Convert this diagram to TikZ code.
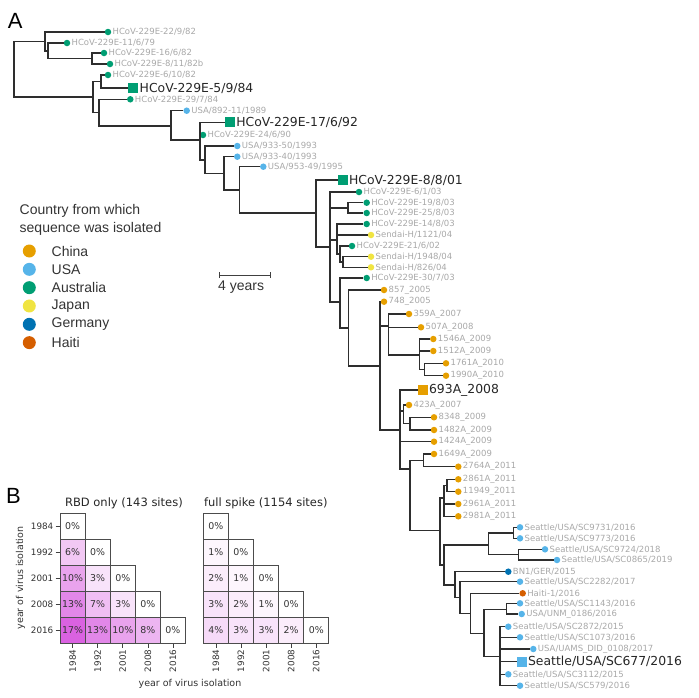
\documentclass[tikz,border=0pt]{standalone}
\usepackage{fontspec}
\setmainfont{Liberation Sans}
\newfontfamily\dejavu{DejaVu Sans}
\usepackage{tikz}

\definecolor{cCN}{HTML}{E69F00}
\definecolor{cUS}{HTML}{56B4E9}
\definecolor{cAU}{HTML}{009E73}
\definecolor{cJP}{HTML}{F0E442}
\definecolor{cDE}{HTML}{0072B2}
\definecolor{cHT}{HTML}{D55E00}
\definecolor{labgray}{HTML}{A8A8A8}
\definecolor{treeline}{HTML}{2E2E2E}
\definecolor{heat}{RGB}{205,45,215}

\newcommand\leaffont{\dejavu\fontsize{8.5}{10}\selectfont}
\newcommand\bigleaffont{\dejavu\fontsize{12.4}{14}\selectfont}
\newcommand\tickfont{\dejavu\fontsize{8.8}{10}\selectfont}
\newcommand\cellfont{\dejavu\fontsize{9.4}{11}\selectfont}
\newcommand\titlefont{\dejavu\fontsize{11.5}{13}\selectfont}

\tikzset{
  branch/.style={draw=treeline, line width=1.55pt},
  tip/.style={circle, fill=#1, inner sep=0pt, minimum size=6.5pt, label distance=0.8pt},
  bigtip/.style={rectangle, fill=#1, inner sep=0pt, minimum size=10pt, label distance=3pt},
  lab/.style={font=\leaffont, text=labgray, inner sep=1pt},
  biglab/.style={font=\bigleaffont, text=black!85, inner sep=1pt},
  legdot/.style={circle, fill=#1, inner sep=0pt, minimum size=13pt},
  legtext/.style={font=\fontsize{14}{16}\selectfont, text=black!80, inner sep=0pt},
  panel/.style={font=\fontsize{22}{24}\selectfont, inner sep=0pt},
  cell/.style={draw=black!70, line width=0.8pt, minimum width=25.1pt, minimum height=26.1pt,
    inner sep=0pt, font=\cellfont, text=black!80},
  tickmark/.style={draw=black!75, line width=0.7pt},
  ticklab/.style={font=\tickfont, text=black!80, inner sep=0pt},
}

\begin{document}
\begin{tikzpicture}[x=1pt,y=-1pt]
\useasboundingbox (0,0) rectangle (699,697);

\node[panel] (A) at (15.3,21) {A};
\node[panel] (B) at (13.5,495.5) {B};

% internal nodes of the tree
\coordinate (root) at (14,69);
\coordinate (n1) at (45,41.4);
\coordinate (n2) at (48,50.75);
\coordinate (n3) at (92,58.5);
\coordinate (m1) at (93,97);
\coordinate (m2) at (101,81.5);
\coordinate (m3) at (99,112.5);
\coordinate (m4) at (171,126);
\coordinate (m5) at (200,140);
\coordinate (m6) at (205,160);
\coordinate (m7) at (224,173.3);
\coordinate (m8) at (239.3,190);
\coordinate (m9) at (316,213);
\coordinate (m10) at (330,247);
\coordinate (a1) at (348,208);
\coordinate (b1) at (337,240);
\coordinate (b2) at (340,254);
\coordinate (b3) at (343,262);
\coordinate (d1) at (340,302);
\coordinate (e1) at (348.3,328);
\coordinate (f1) at (380,366);
\coordinate (g1) at (388.3,326);
\coordinate (h1) at (419.3,355);
\coordinate (h2) at (424.3,369.7);
\coordinate (k1) at (400,430);
\coordinate (l1) at (403.3,411);
\coordinate (l2) at (410,423.7);
\coordinate (p1) at (410,469);
\coordinate (p2) at (423.3,460.7);
\coordinate (q1) at (440,530.7);
\coordinate (r1) at (444,498);
\coordinate (r2) at (447,485.5);
\coordinate (t1) at (444,565);
\coordinate (u1) at (488.3,545);
\coordinate (u2) at (513.3,532.8);
\coordinate (u3) at (518.3,554.7);
\coordinate (v1) at (455,585);
\coordinate (v2) at (460,597.5);
\coordinate (v3) at (470.7,613.3);
\coordinate (v4) at (484,633.3);
\coordinate (v5) at (506.7,609.3);
\coordinate (v6) at (500,656.7);

% tips
\node[tip=cAU, label={[lab]right:HCoV-229E-22/9/82}] (L1) at (108,32) {};
\node[tip=cAU, label={[lab]right:HCoV-229E-11/6/79}] (L2) at (67,43) {};
\node[tip=cAU, label={[lab]right:HCoV-229E-16/6/82}] (L3) at (104,53) {};
\node[tip=cAU, label={[lab]right:HCoV-229E-8/11/82b}] (L4) at (110,64) {};
\node[tip=cAU, label={[lab]right:HCoV-229E-6/10/82}] (L5) at (108,75) {};
\node[bigtip=cAU, label={[biglab]right:HCoV-229E-5/9/84}] (L6) at (133.3,88) {};
\node[tip=cAU, label={[lab]right:HCoV-229E-29/7/84}] (L7) at (130.3,99.3) {};
\node[tip=cUS, label={[lab]right:USA/892-11/1989}] (L8) at (186.7,110.7) {};
\node[bigtip=cAU, label={[biglab]right:HCoV-229E-17/6/92}] (L9) at (230,122.3) {};
\node[tip=cAU, label={[lab]right:HCoV-229E-24/6/90}] (L10) at (203,135) {};
\node[tip=cUS, label={[lab]right:USA/933-50/1993}] (L11) at (237.3,146) {};
\node[tip=cUS, label={[lab]right:USA/933-40/1993}] (L12) at (237.3,156.7) {};
\node[tip=cUS, label={[lab]right:USA/953-49/1995}] (L13) at (263.3,166.7) {};
\node[bigtip=cAU, label={[biglab]right:HCoV-229E-8/8/01}] (L14) at (342.7,180) {};
\node[tip=cAU, label={[lab]right:HCoV-229E-6/1/03}] (L15) at (359,192) {};
\node[tip=cAU, label={[lab]right:HCoV-229E-19/8/03}] (L16) at (366.7,202.7) {};
\node[tip=cAU, label={[lab]right:HCoV-229E-25/8/03}] (L17) at (366.7,213) {};
\node[tip=cAU, label={[lab]right:HCoV-229E-14/8/03}] (L18) at (366.7,224) {};
\node[tip=cJP, label={[lab]right:Sendai-H/1121/04}] (L19) at (371,235) {};
\node[tip=cAU, label={[lab]right:HCoV-229E-21/6/02}] (L20) at (352,246) {};
\node[tip=cJP, label={[lab]right:Sendai-H/1948/04}] (L21) at (371,256.7) {};
\node[tip=cJP, label={[lab]right:Sendai-H/826/04}] (L22) at (371,267.3) {};
\node[tip=cAU, label={[lab]right:HCoV-229E-30/7/03}] (L23) at (366.7,278) {};
\node[tip=cCN, label={[lab]right:857\_2005}] (L24) at (384,290) {};
\node[tip=cCN, label={[lab]right:748\_2005}] (L25) at (384,301.7) {};
\node[tip=cCN, label={[lab]right:359A\_2007}] (L26) at (409,314) {};
\node[tip=cCN, label={[lab]right:507A\_2008}] (L27) at (421,327.3) {};
\node[tip=cCN, label={[lab]right:1546A\_2009}] (L28) at (433.3,339) {};
\node[tip=cCN, label={[lab]right:1512A\_2009}] (L29) at (433.3,351) {};
\node[tip=cCN, label={[lab]right:1761A\_2010}] (L30) at (446,363.3) {};
\node[tip=cCN, label={[lab]right:1990A\_2010}] (L31) at (446,375.7) {};
\node[bigtip=cCN, label={[biglab]right:693A\_2008}] (L32) at (422.7,390) {};
\node[tip=cCN, label={[lab]right:423A\_2007}] (L33) at (409,405) {};
\node[tip=cCN, label={[lab]right:8348\_2009}] (L34) at (434,417.3) {};
\node[tip=cCN, label={[lab]right:1482A\_2009}] (L35) at (434,430) {};
\node[tip=cCN, label={[lab]right:1424A\_2009}] (L36) at (434,441.7) {};
\node[tip=cCN, label={[lab]right:1649A\_2009}] (L37) at (434,454) {};
\node[tip=cCN, label={[lab]right:2764A\_2011}] (L38) at (458.3,466.7) {};
\node[tip=cCN, label={[lab]right:2861A\_2011}] (L39) at (458.3,479.3) {};
\node[tip=cCN, label={[lab]right:11949\_2011}] (L40) at (458.3,491.7) {};
\node[tip=cCN, label={[lab]right:2961A\_2011}] (L41) at (458.3,504) {};
\node[tip=cCN, label={[lab]right:2981A\_2011}] (L42) at (458.3,516.3) {};
\node[tip=cUS, label={[lab]right:Seattle/USA/SC9731/2016}] (L43) at (520,527.3) {};
\node[tip=cUS, label={[lab]right:Seattle/USA/SC9773/2016}] (L44) at (520,538.3) {};
\node[tip=cUS, label={[lab]right:Seattle/USA/SC9724/2018}] (L45) at (545,549.3) {};
\node[tip=cUS, label={[lab]right:Seattle/USA/SC0865/2019}] (L46) at (557,560) {};
\node[tip=cDE, label={[lab]right:BN1/GER/2015}] (L47) at (508.3,571.7) {};
\node[tip=cUS, label={[lab]right:Seattle/USA/SC2282/2017}] (L48) at (520,581.7) {};
\node[tip=cHT, label={[lab]right:Haiti-1/2016}] (L49) at (522.7,593.3) {};
\node[tip=cUS, label={[lab]right:Seattle/USA/SC1143/2016}] (L50) at (520,603.3) {};
\node[tip=cUS, label={[lab]right:USA/UNM\_0186/2016}] (L51) at (521.7,614) {};
\node[tip=cUS, label={[lab]right:Seattle/USA/SC2872/2015}] (L52) at (508.3,626.7) {};
\node[tip=cUS, label={[lab]right:Seattle/USA/SC1073/2016}] (L53) at (520,637.3) {};
\node[tip=cUS, label={[lab]right:USA/UAMS\_DID\_0108/2017}] (L54) at (533.3,649) {};
\node[bigtip=cUS, label={[biglab]right:Seattle/USA/SC677/2016}] (L55) at (521.7,661.7) {};
\node[tip=cUS, label={[lab]right:Seattle/USA/SC3112/2015}] (L56) at (508.3,674.3) {};
\node[tip=cUS, label={[lab]right:Seattle/USA/SC579/2016}] (L57) at (520,685.7) {};

% branches
\foreach \p/\c in {root/n1, root/m1, n1/L1, n1/n2, n2/L2, n2/n3, n3/L3, n3/L4,
    m1/m2, m1/m3, m2/L5, m2/L6, m3/L7, m3/m4, m4/L8, m4/m5,
    m5/L9, m5/L10, m5/m6, m6/L11, m6/m7, m7/L12, m7/m8, m8/L13, m8/m9,
    m9/L14, m9/m10, m10/L15, m10/a1, m10/b1, m10/d1, a1/L16, a1/L17,
    b1/L18, b1/L19, b1/b2, b2/L20, b2/b3, b3/L21, b3/L22,
    d1/L23, d1/e1, e1/L24, e1/f1, f1/L25, f1/g1, f1/k1,
    g1/L26, g1/L27, g1/h1, h1/L28, h1/L29, h1/h2, h2/L30, h2/L31,
    k1/L32, k1/l1, k1/L36, k1/p1, l1/L33, l1/l2, l2/L34, l2/L35,
    p1/p2, p1/q1, p2/L37, p2/L38, q1/r1, q1/t1, r1/r2, r1/L41, r1/L42,
    r2/L39, r2/L40, t1/u1, t1/v1, u1/u2, u1/u3, u2/L43, u2/L44, u3/L45, u3/L46,
    v1/L47, v1/v2, v2/L48, v2/v3, v3/L49, v3/v4, v4/v5, v4/v6, v5/L50, v5/L51,
    v6/L52, v6/L53, v6/L54, v6/L55, v6/L56, v6/L57}
  \draw[branch] (\p) |- (\c);

% legend
\node[legtext, anchor=west] (legtitle1) at (19.5,211) {Country from which};
\node[legtext, anchor=west] (legtitle2) at (19.5,229) {sequence was isolated};
\foreach \c/\t [count=\i from 0] in {cCN/China, cUS/USA, cAU/Australia, cJP/Japan, cDE/Germany, cHT/Haiti} {
  \node[legdot=\c] (legdot\i) at (29.3,251+18.33*\i) {};
  \node[legtext, anchor=west] (legtext\i) at (51.5,251+18.33*\i) {\t};
}

% scale bar
\coordinate (sb0) at (219,275);
\coordinate (sb1) at (270,275);
\draw[tickmark] (sb0) -- (sb1);
\draw[tickmark] ([yshift=-3pt]sb0) -- ([yshift=3pt]sb0);
\draw[tickmark] ([yshift=-3pt]sb1) -- ([yshift=3pt]sb1);
\node[legtext, anchor=west] (sblabel) at (218,287) {4 years};

% heatmaps
\node[font=\titlefont, text=black!85] (rbdtitle) at (123.9,503) {RBD only (143 sites)};
\node[font=\titlefont, text=black!85] (spiketitle) at (265.8,503) {full spike (1154 sites)};

\foreach \r/\c/\v in {0/0/0, 1/0/6, 1/1/0, 2/0/10, 2/1/3, 2/2/0, 3/0/13, 3/1/7, 3/2/3, 3/3/0,
    4/0/17, 4/1/13, 4/2/10, 4/3/8, 4/4/0} {
  \pgfmathsetmacro\mix{4.4*\v}
  \node[cell, fill=heat!\mix!white] (rbd-\r-\c) at ({60+25.1*\c+12.55},{513+26.1*\r+13.05}) {\v\%};
}
\foreach \r/\c/\v in {0/0/0, 1/0/1, 1/1/0, 2/0/2, 2/1/1, 2/2/0, 3/0/3, 3/1/2, 3/2/1, 3/3/0,
    4/0/4, 4/1/3, 4/2/3, 4/3/2, 4/4/0} {
  \pgfmathsetmacro\mix{4.4*\v}
  \node[cell, fill=heat!\mix!white] (spike-\r-\c) at ({203.3+25.1*\c+12.55},{513+26.1*\r+13.05}) {\v\%};
}

% axes
\foreach \yr [count=\i from 0] in {1984,1992,2001,2008,2016} {
  \draw[tickmark] (55.5,{526.05+26.1*\i}) -- (59.6,{526.05+26.1*\i});
  \node[ticklab, anchor=east] (rowlab\i) at (53.5,{526.05+26.1*\i}) {\yr};
  \draw[tickmark] ({72.55+25.1*\i},643.7) -- ({72.55+25.1*\i},647.8);
  \node[ticklab, rotate=90, anchor=east] (collab\i) at ({72.55+25.1*\i},649.5) {\yr};
  \draw[tickmark] ({215.85+25.1*\i},643.7) -- ({215.85+25.1*\i},647.8);
  \node[ticklab, rotate=90, anchor=east] (colspike\i) at ({215.85+25.1*\i},649.5) {\yr};
}
\node[font=\dejavu\fontsize{9.5}{11}\selectfont, text=black!80] (xaxis) at (190,683.5) {year of virus isolation};
\node[font=\dejavu\fontsize{9.5}{11}\selectfont, text=black!80, rotate=90] (yaxis) at (20.5,578) {year of virus isolation};
\end{tikzpicture}
\end{document}
